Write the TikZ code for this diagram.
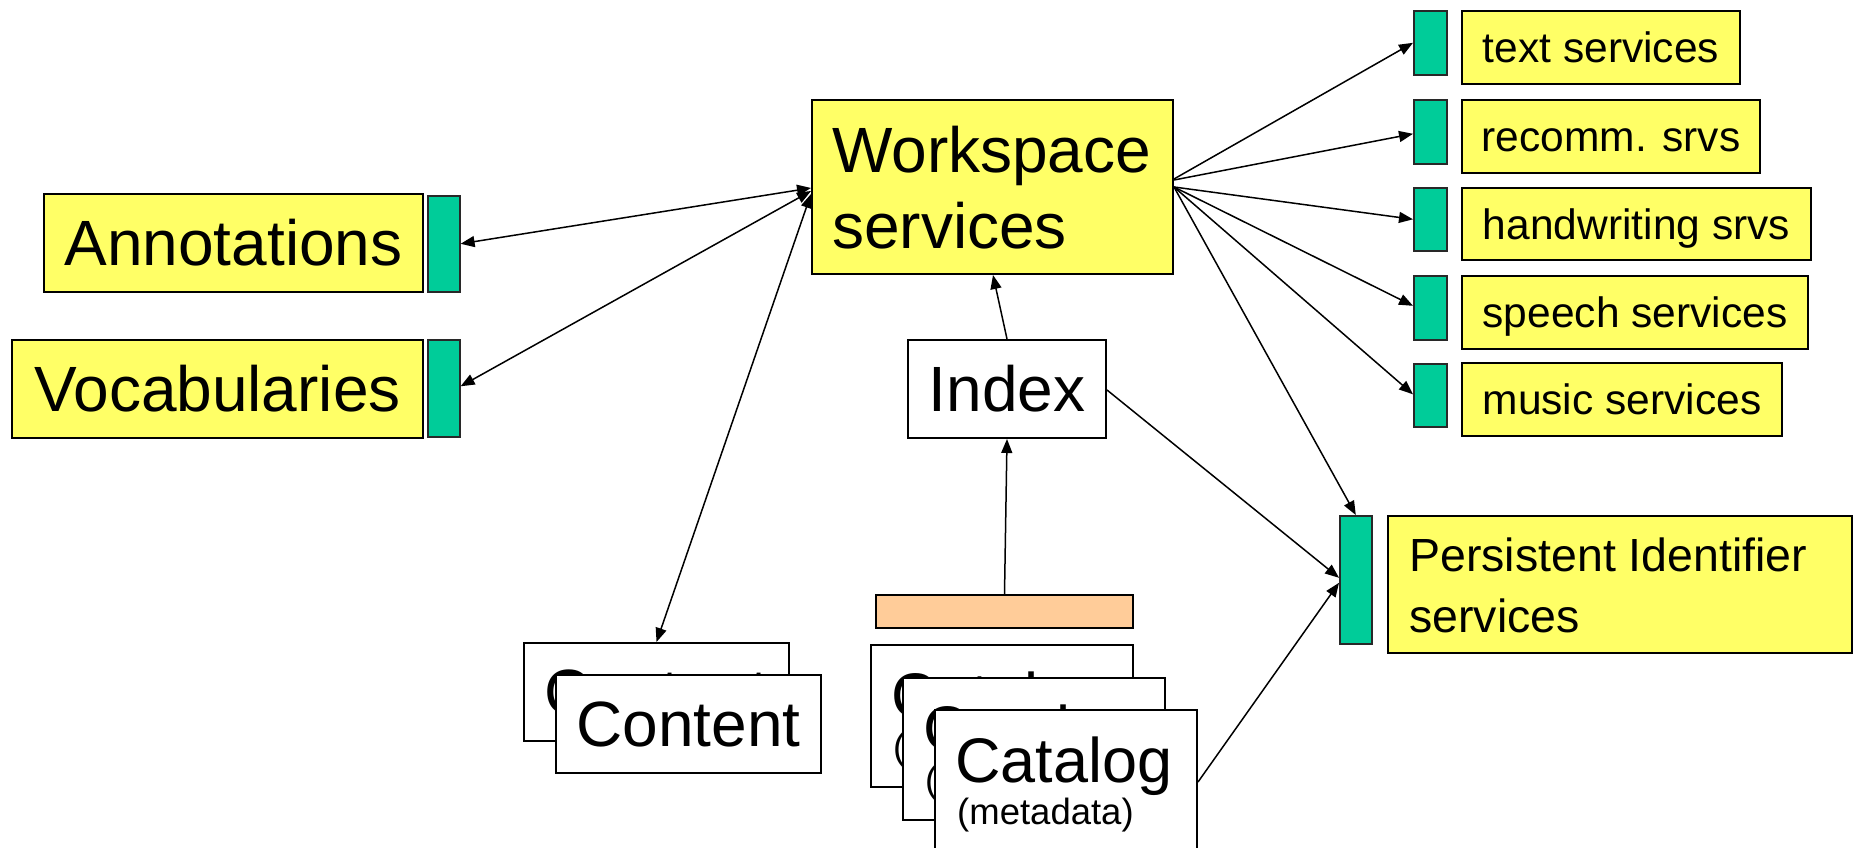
\documentclass[tikz,border=0pt]{standalone}
\usepackage{fontspec}
\setmainfont{Liberation Sans}
\usetikzlibrary{arrows.meta}
\definecolor{ylw}{RGB}{255,255,102}
\definecolor{grn}{RGB}{0,204,153}
\definecolor{orng}{RGB}{255,204,153}
\definecolor{tabline}{RGB}{40,40,40}
\tikzset{
  ybox/.style={draw, line width=2pt, fill=ylw, rectangle, inner sep=0pt, anchor=north west},
  gtab/.style={draw=tabline, line width=1.6pt, fill=grn, rectangle, inner sep=0pt, anchor=north west},
  wbox/.style={draw, line width=2pt, fill=white, rectangle, inner sep=0pt, anchor=north west},
  obox/.style={draw, line width=2pt, fill=orng, rectangle, inner sep=0pt, anchor=north west},
  big/.style={font=\fontsize{64}{76}\selectfont, text height=45.8pt, text depth=0pt},
  srv/.style={font=\fontsize{42.5}{51}\selectfont, text height=30.4pt, text depth=0pt},
  txt/.style={inner sep=0pt, anchor=base west},
  mltxt/.style={inner sep=0pt, anchor=north west, align=left},
  arr/.style={line width=1.5pt, -{Triangle[length=14pt,width=11pt]}},
  darr/.style={line width=1.5pt, {Triangle[length=14pt,width=11pt]}-{Triangle[length=14pt,width=11pt]}},
}
\begin{document}
\begin{tikzpicture}[x=1pt,y=-1pt]
\useasboundingbox (0,0) rectangle (1858,848);
\clip (0,0) rectangle (1858,848);

% left side
\node[ybox, big, minimum width=379pt, minimum height=98pt] (ann) at (43,193) {Annotations};
\node[gtab, minimum width=32pt, minimum height=96pt] (anntab) at (427,195) {};
\node[ybox, big, minimum width=411pt, minimum height=98pt] (voc) at (11,339) {Vocabularies};
\node[gtab, minimum width=32pt, minimum height=97pt] (voctab) at (427,339) {};

% workspace
\node[ybox, minimum width=361pt, minimum height=174pt] (ws) at (811,99) {};
\node[mltxt, font=\fontsize{64}{76}\selectfont] (wstext) at (832,125.7) {Workspace\\services};

% index and orange bar
\node[wbox, big, fill=white, minimum width=198pt, minimum height=98pt] (idx) at (907,339) {Index};
\node[obox, minimum width=257pt, minimum height=33pt] (bar) at (875,594) {};

% content stack
\node[wbox, big, minimum width=265pt, minimum height=98pt] (cback) at (523,642) {Content};
\node[wbox, big, minimum width=265pt, minimum height=98pt] (cfront) at (555,674) {Content};

% catalog stack
\node[wbox, minimum width=262pt, minimum height=142pt] (cat1) at (870,644) {};
\node[txt, font=\fontsize{63}{76}\selectfont] (cat1a) at (891,717) {Catalog};
\node[txt, font=\fontsize{36.5}{44}\selectfont] (cat1b) at (893,759) {(metadata)};
\node[wbox, minimum width=262pt, minimum height=142pt] (cat2) at (902,677) {};
\node[txt, font=\fontsize{63}{76}\selectfont] (cat2a) at (923,750) {Catalog};
\node[txt, font=\fontsize{36.5}{44}\selectfont] (cat2b) at (925,792) {(metadata)};
\node[wbox, minimum width=262pt, minimum height=142pt] (cat3) at (934,709) {};
\node[txt, font=\fontsize{63}{76}\selectfont] (cat3a) at (955,782) {Catalog};
\node[txt, font=\fontsize{36.5}{44}\selectfont] (cat3b) at (957,824) {(metadata)};

% right side services
\node[gtab, minimum width=33pt, minimum height=64pt] (ttab) at (1413,10) {};
\node[ybox, srv, minimum width=278pt, minimum height=73pt] (tsrv) at (1461,10) {text services};
\node[gtab, minimum width=33pt, minimum height=64pt] (rtab) at (1413,99) {};
\node[ybox, srv, minimum width=298pt, minimum height=73pt] (rsrv) at (1461,99) {recomm. srvs};
\node[gtab, minimum width=33pt, minimum height=63pt] (htab) at (1413,187) {};
\node[ybox, srv, minimum width=349pt, minimum height=72pt] (hsrv) at (1461,187) {handwriting srvs};
\node[gtab, minimum width=33pt, minimum height=64pt] (stab) at (1413,275) {};
\node[ybox, srv, minimum width=346pt, minimum height=73pt] (ssrv) at (1461,275) {speech services};
\node[gtab, minimum width=33pt, minimum height=63pt] (mtab) at (1413,363) {};
\node[ybox, srv, minimum width=320pt, minimum height=73pt] (msrv) at (1461,362) {music services};

% persistent identifier
\node[gtab, minimum width=32pt, minimum height=128pt] (pidtab) at (1339,515) {};
\node[ybox, minimum width=464pt, minimum height=137pt] (pid) at (1387,515) {};
\node[mltxt, font=\fontsize{46.5}{61}\selectfont] (pidtext) at (1409,538) {Persistent Identifier\\services};

% connectors
\draw[darr] (anntab.east) -- ([yshift=-1pt]ws.west);
\draw[darr] ([yshift=2pt]voctab.east) -- ([yshift=-4pt]ws.west);
\draw[darr] (cback.north) -- ([yshift=-7pt]ws.west);
\draw[arr] (idx.north) -- ([xshift=182pt]ws.south west);
\draw[arr] (bar.north) -- (idx.south);
\draw[arr] ([yshift=-1pt]idx.east) -- ([yshift=2pt]pidtab.west);
\draw[arr] ([yshift=-73pt]cat3.north east) -- ([yshift=-3pt]pidtab.west);
\draw[arr] (ws.east) -- (pidtab.north);
\draw[arr] ([yshift=8pt]ws.east) -- (ttab.west);
\draw[arr] ([yshift=7pt]ws.east) -- ([yshift=-2pt]rtab.west);
\draw[arr] (ws.east) -- (htab.west);
\draw[arr] (ws.east) -- ([yshift=2pt]stab.west);
\draw[arr] (ws.east) -- ([yshift=1pt]mtab.west);
\end{tikzpicture}
\end{document}
